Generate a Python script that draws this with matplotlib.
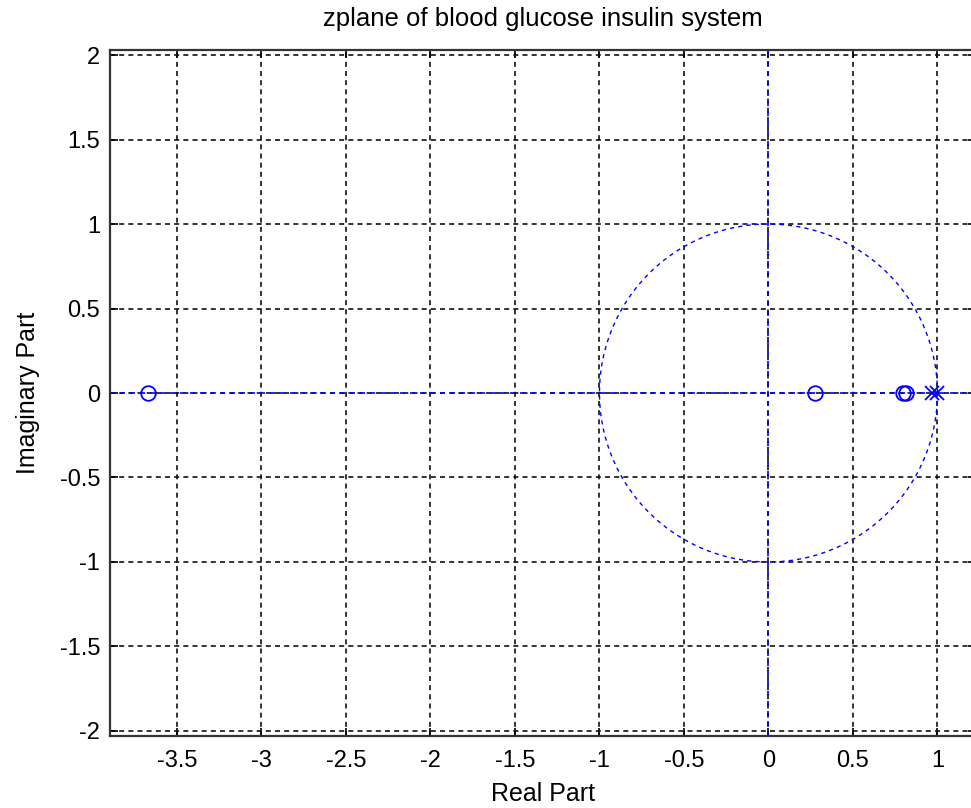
import numpy as np
import matplotlib
matplotlib.use("Agg")
import matplotlib.pyplot as plt
from matplotlib.ticker import FuncFormatter

zeros_re = [-3.67, 0.275, 0.795, 0.815]
zeros_im = [0, 0, 0, 0]
poles_re = [0.97, 1.0]
poles_im = [0, 0]
xticks = [-3.5, -3, -2.5, -2, -1.5, -1, -0.5, 0, 0.5, 1]
yticks = [-2, -1.5, -1, -0.5, 0, 0.5, 1, 1.5, 2]

plt.rcParams['font.family'] = ['Liberation Sans', 'DejaVu Sans']
fig = plt.figure(figsize=(9.71, 8.08), dpi=100)
W, H = 971, 808
ax = fig.add_axes([110 / W, 72 / H, (976 - 110) / W, (736 - 50) / H])
ax.set_xlim(-3.896, 1.228)
ax.set_ylim(-2.03, 2.03)

ax.set_xticks(xticks)
ax.set_yticks(yticks)
fmt = FuncFormatter(lambda v, p: ('%g' % v))
ax.xaxis.set_major_formatter(fmt)
ax.yaxis.set_major_formatter(fmt)
ax.tick_params(direction='in', length=6, width=1.2, labelsize=17, top=True, right=True)
ax.tick_params(axis='x', pad=10)
ax.tick_params(axis='y', pad=7)
ax.grid(True, color='#111111', linestyle=(0, (3, 2.5)), linewidth=1.2)
for s in ax.spines.values():
    s.set_linewidth(1.6)
    s.set_color('#333333')

t = np.linspace(0, 2 * np.pi, 400)
ax.plot(np.cos(t), np.sin(t), color='blue', linestyle=(0, (3, 3)), linewidth=1)
ax.axhline(0, color='blue', linestyle=(0, (3, 3)), linewidth=1.2)
ax.axvline(0, color='blue', linestyle=(0, (3, 3)), linewidth=1.2)

ax.plot(zeros_re, zeros_im, linestyle='none', marker='o', markersize=10.5,
        markerfacecolor='none', markeredgecolor='blue', markeredgewidth=1.3)
ax.plot(poles_re, poles_im, linestyle='none', marker='x', markersize=10,
        color='blue', markeredgewidth=1.3)

ax.set_title('zplane of blood glucose insulin system', fontsize=18.5, pad=17)
ax.set_xlabel('Real Part', fontsize=18, labelpad=7)
ax.set_ylabel('Imaginary Part', fontsize=18, labelpad=14)

fig.savefig('out.png', dpi=100)
